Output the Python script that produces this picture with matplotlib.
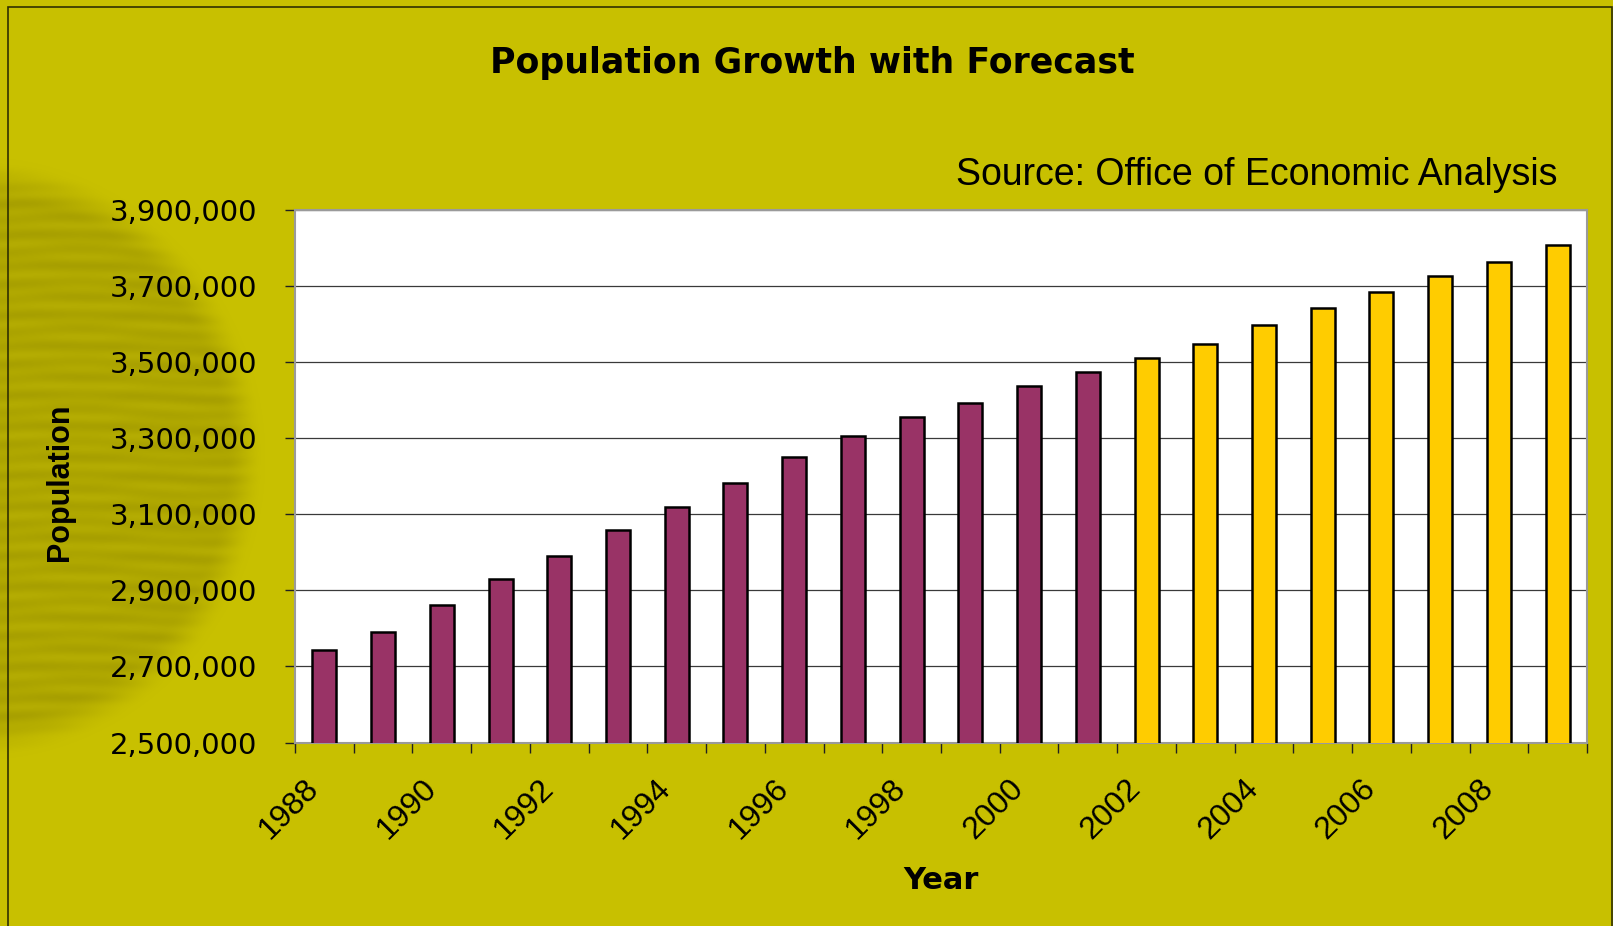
import numpy as np
import matplotlib
matplotlib.use("Agg")
import matplotlib.pyplot as plt
import matplotlib.transforms as mtransforms
from matplotlib.patches import Rectangle

# Data
years = list(range(1988, 2010))
population = [2743000, 2791000, 2860000, 2929000, 2990000, 3058000, 3120000,
              3181000, 3250000, 3306000, 3355000, 3392000, 3436000, 3473000,
              3510000, 3547000, 3596000, 3641000, 3683000, 3726000, 3763000,
              3807000]
first_forecast_year = 2002
y_ticks = [2500000, 2700000, 2900000, 3100000, 3300000, 3500000, 3700000, 3900000]

bg = "#C8C000"
actual_color = "#993366"
forecast_color = "#FFCC00"

plt.rcParams['font.family'] = ['Liberation Sans', 'DejaVu Sans']

fig = plt.figure(figsize=(16.13, 9.26), dpi=100, facecolor=bg)

# decorative blurred, striped disc on the left (background art only)
bg_ax = fig.add_axes([0, 0, 1, 1], zorder=-5)
bg_ax.axis('off')
W, H = 1613, 926
yy, xx = np.mgrid[0:H, 0:W].astype(float)
r = np.sqrt(((xx + 25) / 290) ** 2 + ((yy - 458) / 302) ** 2)
m = np.clip((1.0 - r) / 0.14, 0, 1)
m = m * m * (3 - 2 * m)
wave = (0.6 * np.sin(2 * np.pi * yy / 16 + 1.2 * np.sin(xx / 45))
        + 0.4 * np.sin(2 * np.pi * yy / 27 + 0.9 * np.sin(xx / 23 + 1.0)))
base = np.array([200, 192, 0]) / 255
blob = np.array([174, 166, 0]) / 255
img = np.zeros((H, W, 3))
for c in range(3):
    col = blob[c] + wave * 0.025 * (1 if c < 2 else 0.4)
    img[..., c] = base[c] * (1 - m) + col * m
bg_ax.imshow(np.clip(img, 0, 1), extent=(0, W, H, 0), interpolation='bilinear', aspect='auto')
bg_ax.set_xlim(0, W)
bg_ax.set_ylim(H, 0)
bg_ax.add_patch(Rectangle((8, 7), W - 9, H - 6, fill=False, edgecolor='#303000', lw=1.2))

ax = fig.add_axes([295 / 1613, 1 - 742.5 / 926, (1587 - 295) / 1613, (742.5 - 209.6) / 926])
ax.set_facecolor('white')

x = np.arange(len(years))
colors = [forecast_color if yr >= first_forecast_year else actual_color for yr in years]
ax.bar(x, population, width=0.41, color=colors, edgecolor='black', linewidth=1.8, zorder=3)

ax.set_xlim(-0.5, len(years) - 0.5)
ax.set_ylim(y_ticks[0], y_ticks[-1])
ax.set_yticks(y_ticks)
ax.set_yticklabels([f"{v:,}" for v in y_ticks], fontsize=21, family='DejaVu Sans')
ax.grid(axis='y', color='#3a3a3a', linewidth=0.9, zorder=0)

# ticks on category boundaries, labels on every other year
ax.set_xticks(np.arange(len(years) + 1) - 0.5)
ax.set_xticklabels([])
label_pos = [i for i, yr in enumerate(years) if yr % 2 == 0]
ax.set_xticks(label_pos, minor=True)
ax.set_xticklabels([str(years[i]) for i in label_pos], minor=True,
                   rotation=45, ha='right', va='center', rotation_mode='anchor',
                   fontsize=23)
ax.tick_params(axis='x', which='minor', length=0, pad=30)
ax.tick_params(axis='x', which='major', length=7, width=1, color='#202020', direction='out')
ax.tick_params(axis='y', length=7, width=1, color='#202020', direction='out', pad=20)
offset = mtransforms.ScaledTranslation(-10 / 100, 0, fig.dpi_scale_trans)
for lbl in ax.xaxis.get_minorticklabels():
    lbl.set_transform(lbl.get_transform() + offset)

for side in ['left', 'bottom', 'top', 'right']:
    ax.spines[side].set_color('#9a9a9a')
    ax.spines[side].set_linewidth(1.5)

fig.text(812 / 1613, 1 - 73 / 926, "Population Growth with Forecast",
         ha='center', va='baseline', fontsize=25, fontweight='bold', family='DejaVu Sans')
fig.text(1558 / 1613, 1 - 185 / 926, "Source: Office of Economic Analysis",
         ha='right', va='baseline', fontsize=27)
fig.text(60 / 1613, 1 - 482 / 926, "Population", rotation=90,
         ha='center', va='center', fontsize=22, fontweight='bold')
fig.text(941 / 1613, 1 - 889 / 926, "Year", ha='center', va='baseline',
         fontsize=22, fontweight='bold', family='DejaVu Sans')

fig.savefig("out.png", dpi=100, facecolor=bg)
